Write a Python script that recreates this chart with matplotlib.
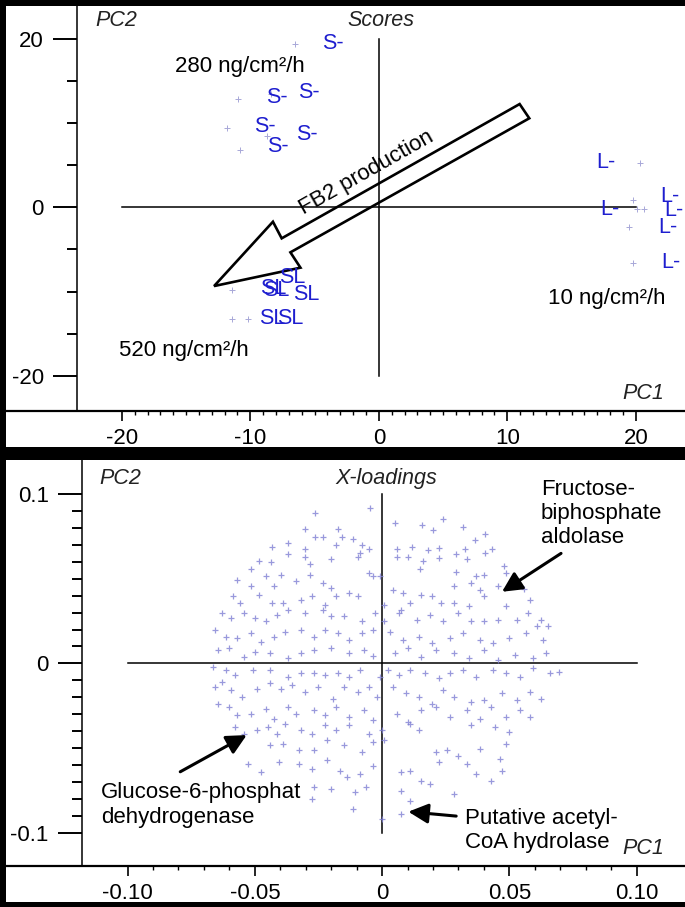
import numpy as np
from matplotlib import pyplot as plt
from matplotlib.patches import Rectangle, Polygon
from matplotlib.lines import Line2D
from matplotlib.ticker import FixedLocator

plt.rcParams['font.family'] = ['Liberation Sans', 'DejaVu Sans']

# ---- scores plot: sample markers and their labels ----
score_x = [-6.52, -10.93, -11.84, -8.68, -10.80, -8.36,
           20.33, 19.76, 20.07, 20.64, 19.49, 19.81,
           -11.45, -11.45, -10.16]
score_y = [19.34, 12.85, 9.37, 8.46, 6.75, 13.40,
           5.29, 0.87, -0.24, -0.24, -2.37, -6.57,
           -9.81, -13.25, -13.25]
lab_x = [-4.44, -8.78, -6.26, -9.71, -6.44, -8.68,
         16.95, 17.21, 21.88, 22.22, 21.75, 22.01,
         -7.74, -9.24, -9.04, -6.65, -9.30, -7.95]
lab_y = [19.45, 13.00, 13.59, 9.64, 8.66, 7.19,
         5.29, -0.24, 1.26, -0.32, -2.37, -6.57,
         -8.30, -9.61, -9.81, -10.40, -13.17, -13.17]
lab_txt = ['S-'] * 6 + ['L-'] * 6 + ['SL'] * 6

# big outline arrow (FB2 production), data coords
fb2_arrow = [(10.96, 12.25), (-7.56, -3.68), (-8.24, -1.71), (-12.82, -9.34),
             (-6.10, -7.16), (-6.88, -5.34), (11.71, 10.56)]

# ---- x-loadings ----
load_x = [
    -0.0048, -0.0265, 0.0052, 0.0156, 0.0239, 0.0201, 0.0316, -0.0302, -0.0174, -0.0234,
    -0.0265, -0.0156, -0.0113, 0.0405, 0.0364, -0.0371, -0.0431, -0.0302, -0.0182, -0.0079,
    -0.0053, 0.0058, 0.0119, 0.0179, 0.0222, 0.0325, 0.0433, 0.0405, -0.0483, -0.0436,
    -0.0371, -0.0302, -0.0285, -0.0199, -0.0096, -0.0088, 0.0058, 0.0101, 0.0162, 0.0222,
    0.0290, 0.0333, 0.0479, 0.0485, -0.0517, -0.0457, -0.0397, -0.0282, -0.0053, -0.0010,
    0.0148, 0.0290, 0.0368, 0.0402, -0.0569, -0.0517, -0.0423, -0.0337, -0.0234, -0.0199,
    -0.0131, -0.0036, 0.0041, 0.0084, 0.0153, 0.0196, 0.0282, 0.0351, 0.0385, 0.0454,
    0.0557, 0.0582, -0.0586, -0.0560, -0.0483, -0.0431, -0.0388, -0.0320, -0.0277, -0.0225,
    -0.0182, -0.0096, 0.0007, 0.0076, 0.0110, 0.0230, 0.0282, 0.0342, 0.0402, 0.0488,
    0.0574, 0.0625, -0.0629, -0.0595, -0.0543, -0.0500, -0.0457, -0.0414, -0.0371, -0.0302,
    -0.0234, -0.0199, -0.0148, -0.0079, -0.0027, 0.0007, 0.0067, 0.0136, 0.0187, 0.0239,
    0.0299, 0.0351, 0.0402, 0.0454, 0.0531, 0.0608, 0.0651, -0.0655, -0.0612, -0.0569,
    -0.0517, -0.0474, -0.0423, -0.0380, -0.0320, -0.0268, -0.0225, -0.0174, -0.0131, -0.0079,
    -0.0036, 0.0033, 0.0084, 0.0144, 0.0196, 0.0265, 0.0316, 0.0385, 0.0436, 0.0497,
    0.0565, 0.0634, -0.0646, -0.0603, -0.0543, -0.0500, -0.0440, -0.0371, -0.0320, -0.0268,
    -0.0199, -0.0131, -0.0070, -0.0036, 0.0050, 0.0101, 0.0153, 0.0213, 0.0282, 0.0342,
    0.0402, 0.0454, 0.0522, 0.0591, 0.0643,
    -0.0663, -0.0612, -0.0577, -0.0509, -0.0440, -0.0371, -0.0320, -0.0268, -0.0225, -0.0174,
    -0.0131, -0.0088, -0.0010, 0.0024, 0.0067, 0.0110, 0.0170, 0.0222, 0.0265, 0.0316,
    0.0368, 0.0436, 0.0488, 0.0540, 0.0591, 0.0660, 0.0694, -0.0655, -0.0629, -0.0595,
    -0.0552, -0.0491, -0.0440, -0.0397, -0.0354, -0.0302, -0.0251, -0.0191, -0.0148, -0.0096,
    -0.0053, -0.0019, 0.0041, 0.0093, 0.0144, 0.0196, 0.0239, 0.0282, 0.0351, 0.0402,
    0.0471, 0.0531, 0.0582, 0.0625, -0.0646, -0.0603, -0.0569, -0.0517, -0.0457, -0.0423,
    -0.0371, -0.0337, -0.0268, -0.0225, -0.0182, -0.0131, -0.0070, -0.0036, 0.0058, 0.0101,
    0.0153, 0.0213, 0.0265, 0.0333, 0.0385, 0.0428, 0.0488, 0.0540, 0.0582, -0.0577,
    -0.0543, -0.0491, -0.0448, -0.0414, -0.0380, -0.0320, -0.0277, -0.0225, -0.0182, -0.0131,
    -0.0053, -0.0002, 0.0110, 0.0144, 0.0351, 0.0445, 0.0497, -0.0440, -0.0388, -0.0328,
    -0.0268, -0.0216, -0.0148, -0.0079, -0.0036, 0.0007, 0.0213, 0.0256, 0.0299, 0.0385,
    0.0488, 0.0462, -0.0526, -0.0474, -0.0405, -0.0328, -0.0277, -0.0216, -0.0165, -0.0088,
    -0.0036, 0.0076, 0.0110, 0.0222, 0.0333, 0.0368, 0.0428, 0.0471, -0.0268, -0.0199,
    -0.0139, -0.0105, -0.0062, 0.0076, 0.0153, 0.0187, 0.0282, -0.0113, -0.0002, 0.0076,
    0.0110, -0.0277]
load_y = [
    0.0921, 0.0887, 0.0832, 0.0816, 0.0855, 0.0788, 0.0808, 0.0796, 0.0796, 0.0749,
    0.0749, 0.0749, 0.0737, 0.0762, 0.0729, 0.0709, 0.0689, 0.0673, 0.0697, 0.0697,
    0.0673, 0.0673, 0.0689, 0.0669, 0.0683, 0.0673, 0.0677, 0.0650, 0.0604, 0.0598,
    0.0644, 0.0630, 0.0590, 0.0618, 0.0630, 0.0653, 0.0630, 0.0630, 0.0604, 0.0622,
    0.0644, 0.0618, 0.0574, 0.0535, 0.0558, 0.0519, 0.0525, 0.0525, 0.0535, 0.0515,
    0.0558, 0.0539, 0.0519, 0.0525, 0.0495, 0.0455, 0.0455, 0.0485, 0.0475, 0.0446,
    0.0416, 0.0515, 0.0436, 0.0416, 0.0406, 0.0396, 0.0455, 0.0475, 0.0436, 0.0455,
    0.0440, 0.0376, 0.0396, 0.0356, 0.0406, 0.0356, 0.0356, 0.0376, 0.0396, 0.0347,
    0.0396, 0.0396, 0.0347, 0.0317, 0.0356, 0.0356, 0.0356, 0.0337, 0.0396, 0.0337,
    0.0297, 0.0257, 0.0297, 0.0267, 0.0297, 0.0267, 0.0248, 0.0287, 0.0317, 0.0297,
    0.0317, 0.0277, 0.0277, 0.0248, 0.0297, 0.0248, 0.0297, 0.0257, 0.0287, 0.0248,
    0.0297, 0.0248, 0.0248, 0.0257, 0.0257, 0.0218, 0.0218, 0.0198, 0.0158, 0.0149,
    0.0178, 0.0129, 0.0158, 0.0188, 0.0198, 0.0158, 0.0198, 0.0178, 0.0139, 0.0178,
    0.0198, 0.0188, 0.0139, 0.0158, 0.0119, 0.0149, 0.0178, 0.0139, 0.0119, 0.0149,
    0.0178, 0.0139, 0.0079, 0.0089, 0.0040, 0.0069, 0.0059, 0.0030, 0.0059, 0.0079,
    0.0089, 0.0059, 0.0079, 0.0044, 0.0059, 0.0089, 0.0040, 0.0079, 0.0059, 0.0030,
    0.0079, 0.0020, 0.0050, 0.0030, 0.0059,
    -0.0020, -0.0040, -0.0069, -0.0040, -0.0040, -0.0079, -0.0059, -0.0059, -0.0069, -0.0059,
    -0.0079, -0.0040, -0.0079, -0.0040, -0.0069, -0.0040, -0.0059, -0.0089, -0.0059, -0.0040,
    -0.0079, -0.0040, -0.0059, -0.0079, -0.0030, -0.0059, -0.0050, -0.0139, -0.0109, -0.0158,
    -0.0198, -0.0149, -0.0119, -0.0149, -0.0129, -0.0168, -0.0139, -0.0208, -0.0139, -0.0168,
    -0.0139, -0.0198, -0.0139, -0.0178, -0.0198, -0.0238, -0.0158, -0.0198, -0.0228, -0.0218,
    -0.0178, -0.0218, -0.0168, -0.0208, -0.0238, -0.0257, -0.0307, -0.0297, -0.0267, -0.0327,
    -0.0257, -0.0297, -0.0277, -0.0307, -0.0257, -0.0317, -0.0277, -0.0337, -0.0297, -0.0347,
    -0.0277, -0.0257, -0.0317, -0.0277, -0.0327, -0.0257, -0.0317, -0.0277, -0.0317, -0.0376,
    -0.0416, -0.0396, -0.0376, -0.0416, -0.0356, -0.0396, -0.0416, -0.0366, -0.0396, -0.0366,
    -0.0416, -0.0396, -0.0356, -0.0396, -0.0366, -0.0376, -0.0406, -0.0485, -0.0475, -0.0515,
    -0.0515, -0.0455, -0.0485, -0.0525, -0.0465, -0.0455, -0.0525, -0.0515, -0.0545, -0.0505,
    -0.0475, -0.0564, -0.0594, -0.0644, -0.0584, -0.0594, -0.0624, -0.0574, -0.0634, -0.0653,
    -0.0604, -0.0644, -0.0634, -0.0584, -0.0594, -0.0653, -0.0693, -0.0634, -0.0733, -0.0743,
    -0.0673, -0.0762, -0.0733, -0.0752, -0.0693, -0.0713, -0.0772, -0.0861, -0.0921, -0.0891,
    -0.0812, -0.0802]

blue = '#1e1ecf'
fs = 16
fs_it = 15.5

fig = plt.figure(figsize=(6.85, 9.07), dpi=100, facecolor='black')
W, H = 685.0, 907.0

def fx(px):
    return px / W

def fy(py):
    return 1 - py / H

# white panel backgrounds
fig.patches.append(Rectangle((fx(6), fy(447)), fx(679), 441 / H, transform=fig.transFigure,
                             facecolor='white', edgecolor='none', zorder=-10))
fig.patches.append(Rectangle((fx(6), fy(902)), fx(679), 442 / H, transform=fig.transFigure,
                             facecolor='white', edgecolor='none', zorder=-10))
# separator lines under each plot area
fig.lines.append(Line2D([fx(6), 1], [fy(411), fy(411)], transform=fig.transFigure,
                        color='black', lw=1.6, zorder=5))
fig.lines.append(Line2D([fx(6), 1], [fy(866), fy(866)], transform=fig.transFigure,
                        color='black', lw=1.6, zorder=5))

ax1 = fig.add_axes([fx(77), fy(411), fx(685 - 77), (411 - 6) / H])
ax2 = fig.add_axes([fx(82), fy(866), fx(685 - 82), (866 - 460) / H])

for ax in (ax1, ax2):
    ax.set_facecolor('white')
    for s in ('top', 'right', 'bottom'):
        ax.spines[s].set_visible(False)
    ax.spines['left'].set_linewidth(1.1)
    ax.tick_params(axis='y', which='major', direction='out', length=17, width=1.4,
                   labelsize=fs, pad=7)
    ax.tick_params(axis='y', which='minor', direction='out', length=7, width=1.4)
    ax.tick_params(axis='x', which='major', direction='out', length=7, width=1.2,
                   labelsize=fs, pad=5)
    ax.tick_params(axis='x', which='minor', direction='out', length=3, width=1.0)

# ---------- top: scores ----------
ax1.set_xlim(-23.49, 23.83)
ax1.set_ylim(-24.16, 23.88)
ax1.plot([-20, 20], [0, 0], color='black', lw=1.1)
ax1.plot([0, 0], [-20, 20], color='black', lw=1.1)
ax1.set_xticks([-20, -10, 0, 10, 20])
ax1.set_xticklabels(['-20', '-10', '0', '10', '20'])
ax1.xaxis.set_minor_locator(FixedLocator(np.arange(-20, 21, 1)))
ax1.set_yticks([-20, 0, 20])
ax1.set_yticklabels(['-20', '0', '20'])
ax1.yaxis.set_minor_locator(FixedLocator(np.arange(-20, 21, 5)))

ax1.plot(score_x, score_y, linestyle='none', marker='+', ms=4, mew=0.7, color='#a8a8d8')
for x, y, t in zip(lab_x, lab_y, lab_txt):
    ax1.text(x, y, t, color=blue, fontsize=15.5, ha='left', va='center')

ax1.add_patch(Polygon(fb2_arrow, closed=True, fill=False, edgecolor='black', lw=1.9,
                      joinstyle='miter'))
ax1.text(-0.93, 4.13, 'FB2 production', fontsize=fs, rotation=29.5,
         ha='center', va='center', rotation_mode='anchor')

ax1.text(-15.86, 16.1, '280 ng/cm²/h', fontsize=fs, ha='left', va='baseline')
ax1.text(-20.2, -17.6, '520 ng/cm²/h', fontsize=fs, ha='left', va='baseline')
ax1.text(13.17, -11.5, '10 ng/cm²/h', fontsize=fs, ha='left', va='baseline')

ax1.text(0.030, 0.963, 'PC2', transform=ax1.transAxes, fontsize=fs_it, style='italic',
         color='#222222', ha='left', va='center')
ax1.text(0.499, 0.963, 'Scores', transform=ax1.transAxes, fontsize=fs_it, style='italic',
         color='#222222', ha='center', va='center')
ax1.text(0.965, 0.044, 'PC1', transform=ax1.transAxes, fontsize=fs_it, style='italic',
         color='#222222', ha='right', va='center')

# ---------- bottom: x-loadings ----------
ax2.set_xlim(-0.1179, 0.1190)
ax2.set_ylim(-0.1198, 0.1202)
ax2.plot([-0.1, 0.1], [0, 0], color='black', lw=1.1)
ax2.plot([0, 0], [-0.1, 0.1], color='black', lw=1.1)
ax2.set_xticks([-0.10, -0.05, 0, 0.05, 0.10])
ax2.set_xticklabels(['-0.10', '-0.05', '0', '0.05', '0.10'])
ax2.xaxis.set_minor_locator(FixedLocator(np.linspace(-0.1, 0.1, 21)))
ax2.set_yticks([-0.1, 0, 0.1])
ax2.set_yticklabels(['-0.1', '0', '0.1'])
ax2.yaxis.set_minor_locator(FixedLocator(np.linspace(-0.1, 0.1, 21)))

ax2.plot(load_x, load_y, linestyle='none', marker='+', ms=5, mew=0.9,
         color='#8080d4', alpha=0.8)

arr = dict(arrowstyle='-|>,head_length=0.6,head_width=0.3', color='black', lw=2.2,
           mutation_scale=20, shrinkA=0, shrinkB=0)
ax2.annotate('', xy=(0.0471, 0.0423), xytext=(0.0703, 0.0650), arrowprops=arr)
ax2.annotate('', xy=(-0.0532, -0.0424), xytext=(-0.0793, -0.0641), arrowprops=arr)
ax2.annotate('', xy=(0.0103, -0.0877), xytext=(0.0291, -0.0903), arrowprops=arr)

# multi-line labels: anchored at the baseline of their last line
ax2.text(0.0623, 0.0709, 'Fructose-\nbiphosphate\naldolase', fontsize=fs,
         ha='left', va='baseline', linespacing=1.2)
ax2.text(-0.1103, -0.0942, 'Glucose-6-phosphat\ndehydrogenase', fontsize=fs,
         ha='left', va='baseline', linespacing=1.2)
ax2.text(0.0326, -0.1094, 'Putative acetyl-\nCoA hydrolase', fontsize=fs,
         ha='left', va='baseline', linespacing=1.2)

ax2.text(0.029, 0.955, 'PC2', transform=ax2.transAxes, fontsize=fs_it, style='italic',
         color='#222222', ha='left', va='center')
ax2.text(0.504, 0.955, 'X-loadings', transform=ax2.transAxes, fontsize=fs_it, style='italic',
         color='#222222', ha='center', va='center')
ax2.text(0.965, 0.044, 'PC1', transform=ax2.transAxes, fontsize=fs_it, style='italic',
         color='#222222', ha='right', va='center')

fig.savefig('out.png', dpi=100, facecolor='black')
